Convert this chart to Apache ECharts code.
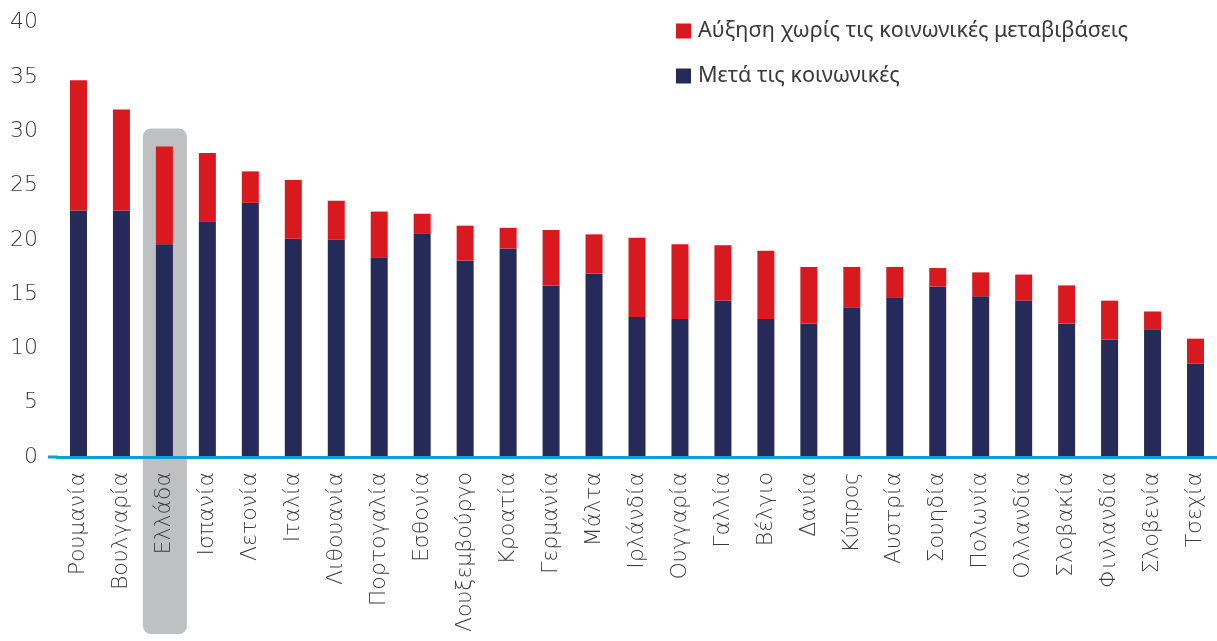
<!DOCTYPE html>
<html>
<head>
<meta charset="utf-8">
<script src="https://cdn.jsdelivr.net/npm/echarts@6/dist/echarts.min.js"></script>
<style>
html,body{margin:0;padding:0;background:#fff;}
#chart{width:1217px;height:641px;}
</style>
</head>
<body>
<div id="chart"></div>
<script>
const categories = ["Ρουμανία","Βουλγαρία","Ελλάδα","Ισπανία","Λετονία","Ιταλία","Λιθουανία","Πορτογαλία","Εσθονία","Λουξεμβούργο","Κροατία","Γερμανία","Μάλτα","Ιρλάνδία","Ουγγαρία","Γαλλία","Βέλγιο","Δανία","Κύπρος","Αυστρία","Σουηδία","Πολωνία","Ολλανδία","Σλοβακία","Φινλανδία","Σλοβενία","Τσεχία"];
const afterTransfers = [22.7,22.7,19.6,21.7,23.4,20.1,20.0,18.4,20.6,18.1,19.2,15.8,16.9,12.9,12.7,14.4,12.7,12.3,13.8,14.7,15.7,14.8,14.4,12.3,10.8,11.7,8.6];
const increaseWithout = [12.0,9.3,9.0,6.3,2.9,5.4,3.6,4.2,1.8,3.2,1.9,5.1,3.6,7.3,6.9,5.1,6.3,5.2,3.7,2.8,1.7,2.2,2.4,3.5,3.6,1.7,2.3];
const yTicks = {min:0, max:40, interval:5};
const highlighted = "Ελλάδα";
const seriesNames = ["Αύξηση χωρίς τις κοινωνικές μεταβιβάσεις","Μετά τις κοινωνικές"];

const FONT = "'Noto Sans', 'DejaVu Sans', sans-serif";
const LABEL_FONT = "'DejaVu Sans', 'Noto Sans', sans-serif";
const chart = echarts.init(document.getElementById('chart'), null, {renderer:'canvas'});
const option = {
  animation:false,
  backgroundColor:'#ffffff',
  textStyle:{fontFamily:FONT},
  grid:{left:57, right:0, top:22.6, bottom:184, containLabel:false},
  legend:{
    orient:'vertical', left:671, top:15,
    itemWidth:15, itemHeight:15, itemGap:23, icon:'rect',
    textStyle:{fontSize:21.6, color:'#3a3a3a', fontFamily:FONT, padding:[0,0,0,2]},
    data:[seriesNames[0], seriesNames[1]]
  },
  xAxis:{
    type:'category', data:categories, z:3,
    axisLine:{show:true, lineStyle:{color:'#0a9fd9', width:3}},
    axisTick:{show:false},
    axisLabel:{rotate:90, fontSize:22, color:'#3a3a3a', margin:15, interval:0, fontFamily:LABEL_FONT, fontWeight:200}
  },
  yAxis:{
    type:'value', min:yTicks.min, max:yTicks.max, interval:yTicks.interval, z:3,
    axisLine:{show:false}, axisTick:{show:false}, splitLine:{show:false},
    axisLabel:{fontSize:22, color:'#3a3a3a', margin:19, fontFamily:LABEL_FONT, fontWeight:200}
  },
  series:[
    {name:seriesNames[1], type:'bar', stack:'s', data:afterTransfers, barWidth:17, z:2,
     itemStyle:{color:'#252a59'}},
    {name:seriesNames[0], type:'bar', stack:'s', data:increaseWithout, barWidth:17, z:2,
     itemStyle:{color:'#d91920'}}
  ]
};
chart.setOption(option);

// highlight box and axis-line extension, positioned through the chart's scales
const idx = categories.indexOf(highlighted);
const total = afterTransfers[idx] + increaseWithout[idx];
const c = chart.convertToPixel({gridIndex:0}, [idx, total]);
const c1 = chart.convertToPixel({gridIndex:0}, [1, 0]);
const c0 = chart.convertToPixel({gridIndex:0}, [0, 0]);
const band = c1[0] - c0[0];
chart.setOption({
  graphic:[
    {type:'rect', z:1, shape:{x:c[0]-band/2, y:c[1]-18, width:band+1, height:634-(c[1]-18), r:8},
     style:{fill:'#bfc0c2'}},
    {type:'line', z:3, shape:{x1:48, y1:c0[1], x2:c0[0]-band/2+1, y2:c0[1]},
     style:{stroke:'#0a9fd9', lineWidth:3}}
  ]
});
</script>
</body>
</html>
